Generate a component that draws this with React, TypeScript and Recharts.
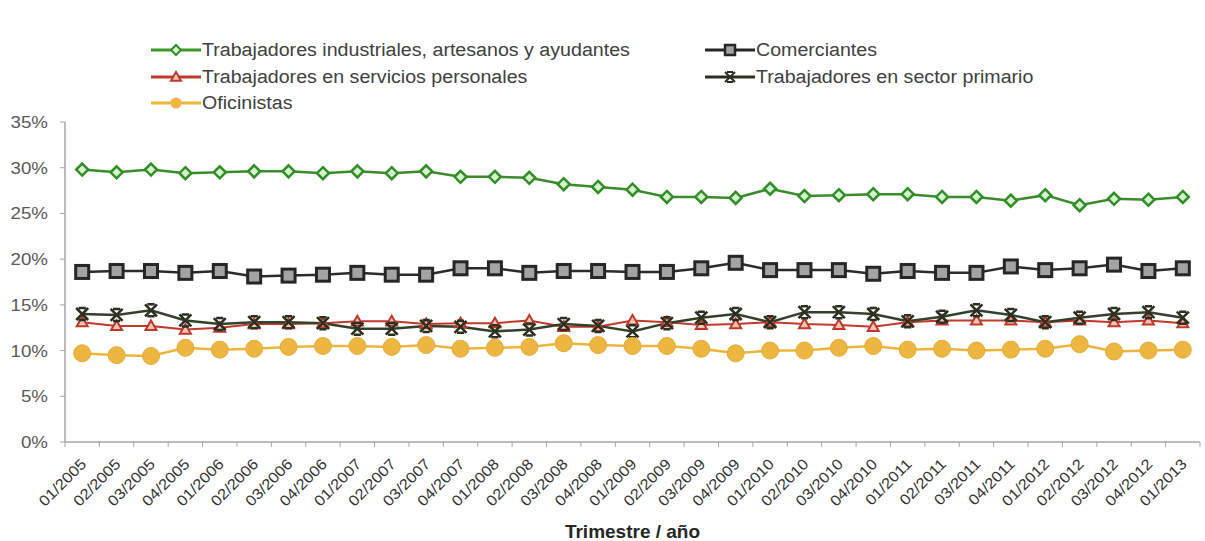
import React from "react"
import { LineChart, Line, XAxis, YAxis } from "recharts"

const quarters = [
    "01/2005", "02/2005", "03/2005", "04/2005",
    "01/2006", "02/2006", "03/2006", "04/2006",
    "01/2007", "02/2007", "03/2007", "04/2007",
    "01/2008", "02/2008", "03/2008", "04/2008",
    "01/2009", "02/2009", "03/2009", "04/2009",
    "01/2010", "02/2010", "03/2010", "04/2010",
    "01/2011", "02/2011", "03/2011", "04/2011",
    "01/2012", "02/2012", "03/2012", "04/2012",
    "01/2013",
]

const industriales = [29.8, 29.5, 29.8, 29.4, 29.5, 29.6, 29.6, 29.4, 29.6, 29.4, 29.6, 29.0, 29.0, 28.9, 28.2, 27.9, 27.6, 26.8, 26.8, 26.7, 27.7, 26.9, 27.0, 27.1, 27.1, 26.8, 26.8, 26.4, 27.0, 25.9, 26.6, 26.5, 26.8]
const comerciantes = [18.6, 18.7, 18.7, 18.5, 18.7, 18.1, 18.2, 18.3, 18.5, 18.3, 18.3, 19.0, 19.0, 18.5, 18.7, 18.7, 18.6, 18.6, 19.0, 19.6, 18.8, 18.8, 18.8, 18.4, 18.7, 18.5, 18.5, 19.2, 18.8, 19.0, 19.4, 18.7, 19.0]
const servicios = [13.1, 12.7, 12.7, 12.3, 12.5, 12.9, 12.9, 13.0, 13.2, 13.2, 12.9, 13.0, 13.0, 13.3, 12.6, 12.6, 13.3, 13.1, 12.8, 12.9, 13.1, 12.9, 12.8, 12.6, 13.1, 13.3, 13.3, 13.3, 13.1, 13.3, 13.1, 13.3, 13.0]
const primario = [14.0, 13.9, 14.4, 13.3, 12.9, 13.1, 13.1, 13.0, 12.4, 12.4, 12.7, 12.6, 12.1, 12.3, 12.9, 12.7, 12.1, 13.0, 13.6, 14.0, 13.1, 14.2, 14.2, 14.0, 13.2, 13.7, 14.4, 13.9, 13.1, 13.6, 14.0, 14.2, 13.6]
const oficinistas = [9.7, 9.5, 9.4, 10.3, 10.1, 10.2, 10.4, 10.5, 10.5, 10.4, 10.6, 10.2, 10.3, 10.4, 10.8, 10.6, 10.5, 10.5, 10.2, 9.7, 10.0, 10.0, 10.3, 10.5, 10.1, 10.2, 10.0, 10.1, 10.2, 10.7, 9.9, 10.0, 10.1]

const yTicks = [0, 5, 10, 15, 20, 25, 30, 35]

const FONT = "'Liberation Sans', Arial, sans-serif"
const AXIS = "#a6a6a6"

const data = quarters.map((q, i) => ({
    q,
    ind: industriales[i],
    com: comerciantes[i],
    ser: servicios[i],
    pri: primario[i],
    ofi: oficinistas[i],
}))

// marker shapes
const diamond = (cx: number, cy: number, r: number) =>
    `M${cx},${cy - r}L${cx + r},${cy}L${cx},${cy + r}L${cx - r},${cy}Z`
const triangle = (cx: number, cy: number, r: number) =>
    `M${cx},${cy - r}L${cx + r},${cy + r * 0.75}L${cx - r},${cy + r * 0.75}Z`
const cross = (cx: number, cy: number, r: number) =>
    `M${cx - r},${cy - r}L${cx + r},${cy + r}M${cx + r},${cy - r}L${cx - r},${cy + r}M${cx - r * 0.6},${cy - r}L${cx + r * 0.6},${cy - r}M${cx - r * 0.6},${cy + r}L${cx + r * 0.6},${cy + r}`

const DiamondDot = (p: any) => p.cx == null ? <g key={p.index} /> :
    <path key={p.index} d={diamond(p.cx, p.cy, 6)} fill="#d6f2cf" stroke="#2f8f25" strokeWidth={2.5} />
const SquareDot = (p: any) => p.cx == null ? <g key={p.index} /> :
    <rect key={p.index} x={p.cx - 6.5} y={p.cy - 6.5} width={13} height={13} fill="#a3a3a3" stroke="#262626" strokeWidth={3} />
const TriangleDot = (p: any) => p.cx == null ? <g key={p.index} /> :
    <path key={p.index} d={triangle(p.cx, p.cy, 5.5)} fill="#f3c4b8" stroke="#c0392b" strokeWidth={2} />
const CrossDot = (p: any) => p.cx == null ? <g key={p.index} /> :
    <path key={p.index} d={cross(p.cx, p.cy, 6)} fill="none" stroke="#2b2f20" strokeWidth={2.5} />
const CircleDot = (p: any) => p.cx == null ? <g key={p.index} /> :
    <circle key={p.index} cx={p.cx} cy={p.cy} r={8.5} fill="#ecb640" stroke="#e5ab35" strokeWidth={1} />

const XTick = (p: any) => {
    const { x, y, payload } = p
    const half = payload?.offset ?? 17.2
    const last = payload?.index === quarters.length - 1
    return (
        <g>
            <line x1={x - half} y1={y} x2={x - half} y2={y + 5} stroke={AXIS} />
            {last && <line x1={x + half} y1={y} x2={x + half} y2={y + 5} stroke={AXIS} />}
            <text
                transform={`translate(${x + 5},${y + 23}) rotate(-45) scale(1.1,1)`}
                textAnchor="end"
                fontSize={15}
                fontFamily={FONT}
                fill="#333333"
            >
                {payload.value}
            </text>
        </g>
    )
}

const YTick = (p: any) => {
    const { x, y, payload } = p
    return (
        <text
            transform={`translate(${x},${y}) scale(1.1,1)`}
            textAnchor="end"
            dy="0.35em"
            fontSize={17}
            fontFamily={FONT}
            fill="#595959"
        >
            {payload.value}%
        </text>
    )
}

const legendItems = [
    { name: "Trabajadores industriales, artesanos y ayudantes", color: "#3a9a2a", mark: "diamond", left: 150, top: 50 },
    { name: "Trabajadores en servicios personales", color: "#c0392b", mark: "triangle", left: 150, top: 77 },
    { name: "Oficinistas", color: "#efb43c", mark: "circle", left: 150, top: 103 },
    { name: "Comerciantes", color: "#262626", mark: "square", left: 704, top: 50 },
    { name: "Trabajadores en sector primario", color: "#2b2f20", mark: "cross", left: 704, top: 77 },
]

function LegendMark({ mark, color }: { mark: string, color: string }) {
    return (
        <svg width={52} height={20} style={{ display: "block" }}>
            <line x1={1} y1={10} x2={51} y2={10} stroke={color} strokeWidth={3} />
            {mark === "diamond" && <path d={diamond(26, 10, 5)} fill="#d6f2cf" stroke="#2f8f25" strokeWidth={2} />}
            {mark === "triangle" && <path d={triangle(26, 10, 5)} fill="#f3c4b8" stroke="#c0392b" strokeWidth={2} />}
            {mark === "circle" && <circle cx={26} cy={10} r={5.5} fill="#ecb640" />}
            {mark === "square" && <rect x={21} y={5} width={10} height={10} fill="#a3a3a3" stroke="#262626" strokeWidth={2.5} />}
            {mark === "cross" && <path d={cross(26, 10, 5)} fill="none" stroke="#2b2f20" strokeWidth={2} />}
        </svg>
    )
}

export default function App() {
    return (
        <div style={{ position: "absolute", left: 0, top: 0, width: 1205, height: 541, background: "#fff", fontFamily: FONT }}>
            {legendItems.map((it) => (
                <div
                    key={it.name}
                    style={{ position: "absolute", left: it.left, top: it.top - 10, height: 20, display: "flex", alignItems: "center" }}
                >
                    <LegendMark mark={it.mark} color={it.color} />
                    <span style={{ fontSize: 18, color: "#404040", whiteSpace: "nowrap", transform: "scaleX(1.09)", transformOrigin: "left center", display: "inline-block", lineHeight: "20px" }}>
                        {it.name}
                    </span>
                </div>
            ))}
            <LineChart width={1205} height={541} data={data} margin={{ top: 122, right: 5, bottom: 0, left: 0 }}>
                <XAxis
                    dataKey="q"
                    scale="band"
                    interval={0}
                    height={99}
                    tickLine={false}
                    tickSize={0}
                    tickMargin={0}
                    axisLine={{ stroke: AXIS, strokeWidth: 1.5 }}
                    tick={XTick}
                    label={{
                        value: "Trimestre / año",
                        position: "insideBottom",
                        offset: 3,
                        style: { fontSize: 19, fontWeight: "bold", fill: "#262626", fontFamily: FONT },
                    }}
                />
                <YAxis
                    width={65}
                    domain={[0, 35]}
                    ticks={yTicks}
                    interval={0}
                    tickSize={5}
                    tickMargin={12}
                    tickLine={{ stroke: AXIS }}
                    axisLine={{ stroke: AXIS, strokeWidth: 1.5 }}
                    tick={YTick}
                />
                <Line dataKey="ind" stroke="#3b8a2d" strokeWidth={2.5} dot={DiamondDot} isAnimationActive={false} />
                <Line dataKey="com" stroke="#2b2b2b" strokeWidth={2.5} dot={SquareDot} isAnimationActive={false} />
                <Line dataKey="ser" stroke="#c0392b" strokeWidth={2} dot={TriangleDot} isAnimationActive={false} />
                <Line dataKey="pri" stroke="#33402a" strokeWidth={2.5} dot={CrossDot} isAnimationActive={false} />
                <Line dataKey="ofi" stroke="#efb43c" strokeWidth={2.5} dot={CircleDot} isAnimationActive={false} />
            </LineChart>
        </div>
    )
}
